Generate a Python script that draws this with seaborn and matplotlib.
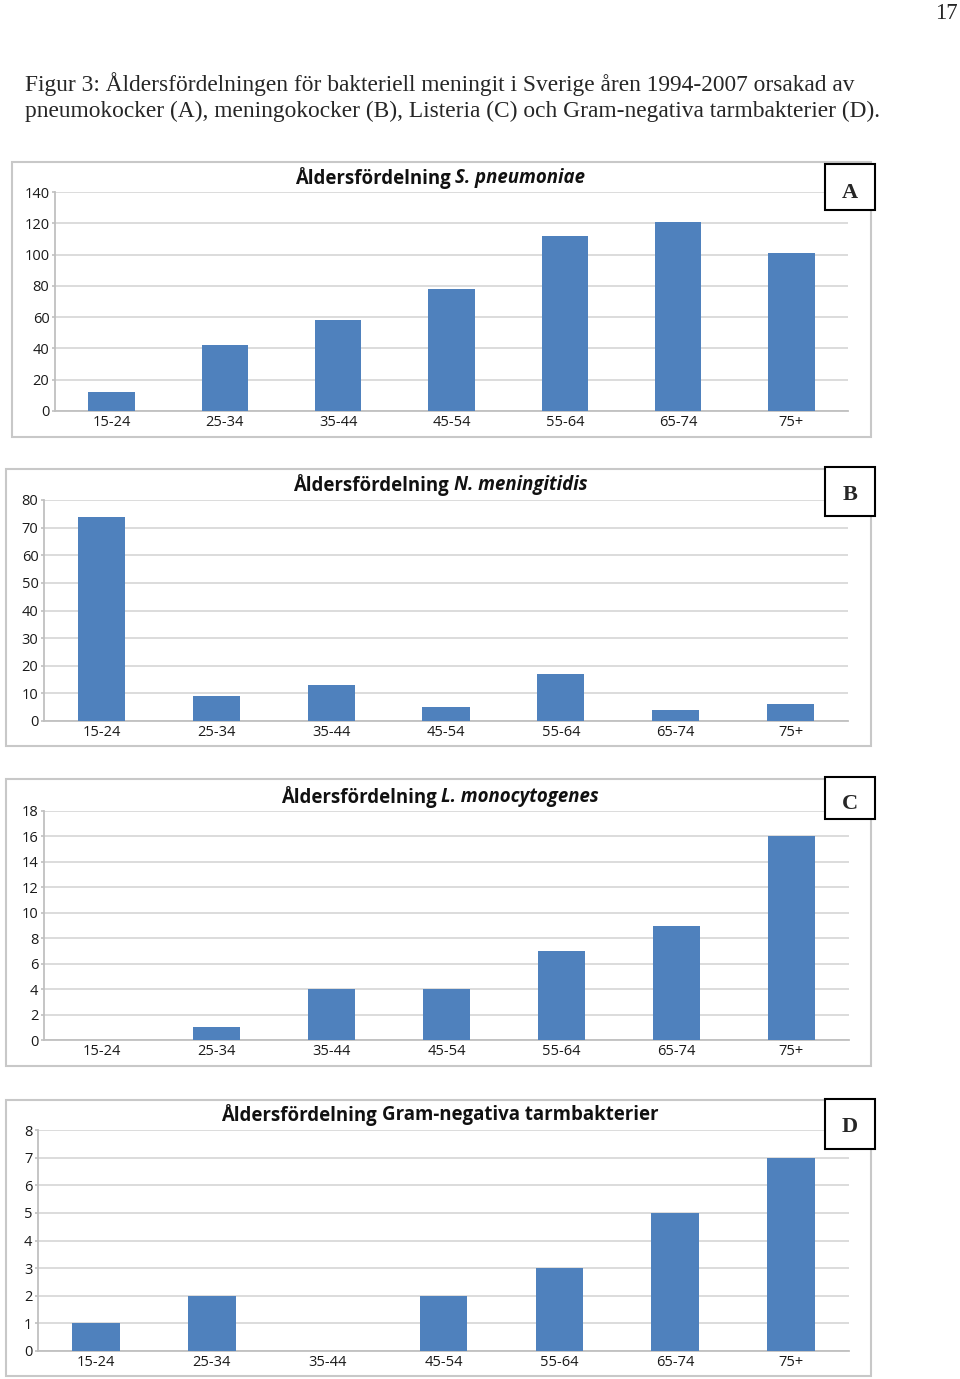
import matplotlib
matplotlib.use("Agg")
import matplotlib.pyplot as plt
import seaborn as sns
from matplotlib.patches import Rectangle

# --- Data ---
AGE_GROUPS = ["15-24", "25-34", "35-44", "45-54", "55-64", "65-74", "75+"]
PNEUMONIAE = [12, 42, 58, 78, 112, 121, 101]
MENINGITIDIS = [74, 9, 13, 5, 17, 4, 6]
LISTERIA = [0, 1, 4, 4, 7, 9, 16]
GRAM_NEG = [1, 2, 0, 2, 3, 5, 7]

TITLE_PLAIN = "Åldersfördelning "
TITLE_SPECIES = ["S. pneumoniae", "N. meningitidis", "L. monocytogenes", "Gram-negativa tarmbakterier"]
TITLE_ITALIC = [True, True, True, False]
LETTERS = ["A", "B", "C", "D"]
Y_MAX = [140, 80, 18, 8]
Y_STEP = [20, 10, 2, 1]

CAPTION_1 = "Figur 3: Åldersfördelningen för bakteriell meningit i Sverige åren 1994-2007 orsakad av"
CAPTION_2 = "pneumokocker (A), meningokocker (B), Listeria (C) och Gram-negativa tarmbakterier (D)."
PAGE_NO = "17"

BAR_COLOR = "#4F81BD"
GRID_COLOR = "#D9D9D9"
SANS = "Open Sans"
SERIF = "Liberation Serif"

W, H = 960, 1379

# panel layout in pixels: (outer box), (plot area), title y, letter box, letter y
PANELS = [
    dict(box=(12, 162, 871, 437), plot=(55, 192, 848, 411), title_y=178, letter=(825, 164, 875, 210), letter_y=190),
    dict(box=(6, 469, 871, 746), plot=(44, 500, 848, 721), title_y=485, letter=(825, 467, 875, 516), letter_y=492),
    dict(box=(6, 779, 871, 1066), plot=(44, 811, 849, 1040), title_y=797, letter=(825, 777, 875, 819), letter_y=801),
    dict(box=(6, 1100, 871, 1376), plot=(38, 1130, 849, 1351), title_y=1115, letter=(825, 1099, 875, 1149), letter_y=1124),
]
SERIES = [PNEUMONIAE, MENINGITIDIS, LISTERIA, GRAM_NEG]

sns.set_theme(style="white")
plt.rcParams['font.family'] = [SANS, 'DejaVu Sans']

fig = plt.figure(figsize=(W / 100, H / 100), dpi=100)
fig.patch.set_facecolor("white")


def fx(x):
    return x / W


def fy(y):
    return 1 - y / H


def frect(x0, y0, x1, y1, **kw):
    return Rectangle((fx(x0), fy(y1)), (x1 - x0) / W, (y1 - y0) / H,
                     transform=fig.transFigure, figure=fig, **kw)


# caption + page number
fig.text(fx(25), fy(91), CAPTION_1, family=SERIF, fontsize=16.8, va="baseline", ha="left")
fig.text(fx(25), fy(117), CAPTION_2, family=SERIF, fontsize=16.8, va="baseline", ha="left")
fig.text(fx(958), fy(19), PAGE_NO, family=SERIF, fontsize=16.5, va="baseline", ha="right")

renderer = fig.canvas.get_renderer()

for i, (spec, vals) in enumerate(zip(PANELS, SERIES)):
    # outer frame of the chart
    fig.patches.append(frect(*spec["box"], facecolor="none", edgecolor="#C8C8C8", lw=1.5, zorder=0))

    x0, y0, x1, y1 = spec["plot"]
    ax = fig.add_axes([fx(x0), fy(y1), (x1 - x0) / W, (y1 - y0) / H])
    ax.set_zorder(2)
    ax.set_facecolor("none")
    sns.barplot(x=AGE_GROUPS, y=vals, color=BAR_COLOR, saturation=1, width=0.41, ax=ax,
                linewidth=0, edgecolor=BAR_COLOR, zorder=3)
    ax.set_xlim(-0.5, len(AGE_GROUPS) - 0.5)
    ax.set_ylim(0, Y_MAX[i])
    ax.set_yticks(range(0, Y_MAX[i] + 1, Y_STEP[i]))
    ax.yaxis.grid(True, color=GRID_COLOR, lw=1.3, zorder=0)
    ax.set_axisbelow(True)
    for side in ["top", "right"]:
        ax.spines[side].set_visible(False)
    for side in ["left", "bottom"]:
        ax.spines[side].set_color("#C0C0C0")
        ax.spines[side].set_linewidth(1.3)
    ax.tick_params(axis="y", length=2.5, width=1.2, color="#C0C0C0", pad=1.5, labelsize=10.5,
                   labelcolor="#1a1a1a", left=True)
    ax.tick_params(axis="x", length=0, pad=3, labelsize=10.5, labelcolor="#1a1a1a")
    ax.set_xlabel("")
    ax.set_ylabel("")

    # title: plain bold + bold italic species name, centred together
    ty = fy(spec["title_y"])
    t1 = fig.text(0, ty, TITLE_PLAIN, fontsize=13.4, fontweight="bold", va="center", ha="left", color="#111111")
    t2 = fig.text(0, ty, TITLE_SPECIES[i], fontsize=13.4, fontweight="bold", color="#111111",
                  fontstyle="italic" if TITLE_ITALIC[i] else "normal", va="center", ha="left")
    w1 = t1.get_window_extent(renderer).width
    w2 = t2.get_window_extent(renderer).width
    left = 440 - (w1 + w2) / 2
    t1.set_x(fx(left))
    t2.set_x(fx(left + w1))

    # letter box (sits above the grid lines)
    lx0, ly0, lx1, ly1 = spec["letter"]
    fig.patches.append(frect(lx0, ly0, lx1, ly1, facecolor="white", edgecolor="black", lw=1.5, zorder=5))
    fig.text(fx((lx0 + lx1) / 2), fy(spec["letter_y"]), LETTERS[i], family=SERIF, fontweight="bold",
             fontsize=16, ha="center", va="center_baseline", zorder=6)

fig.savefig("out.png", dpi=100)
